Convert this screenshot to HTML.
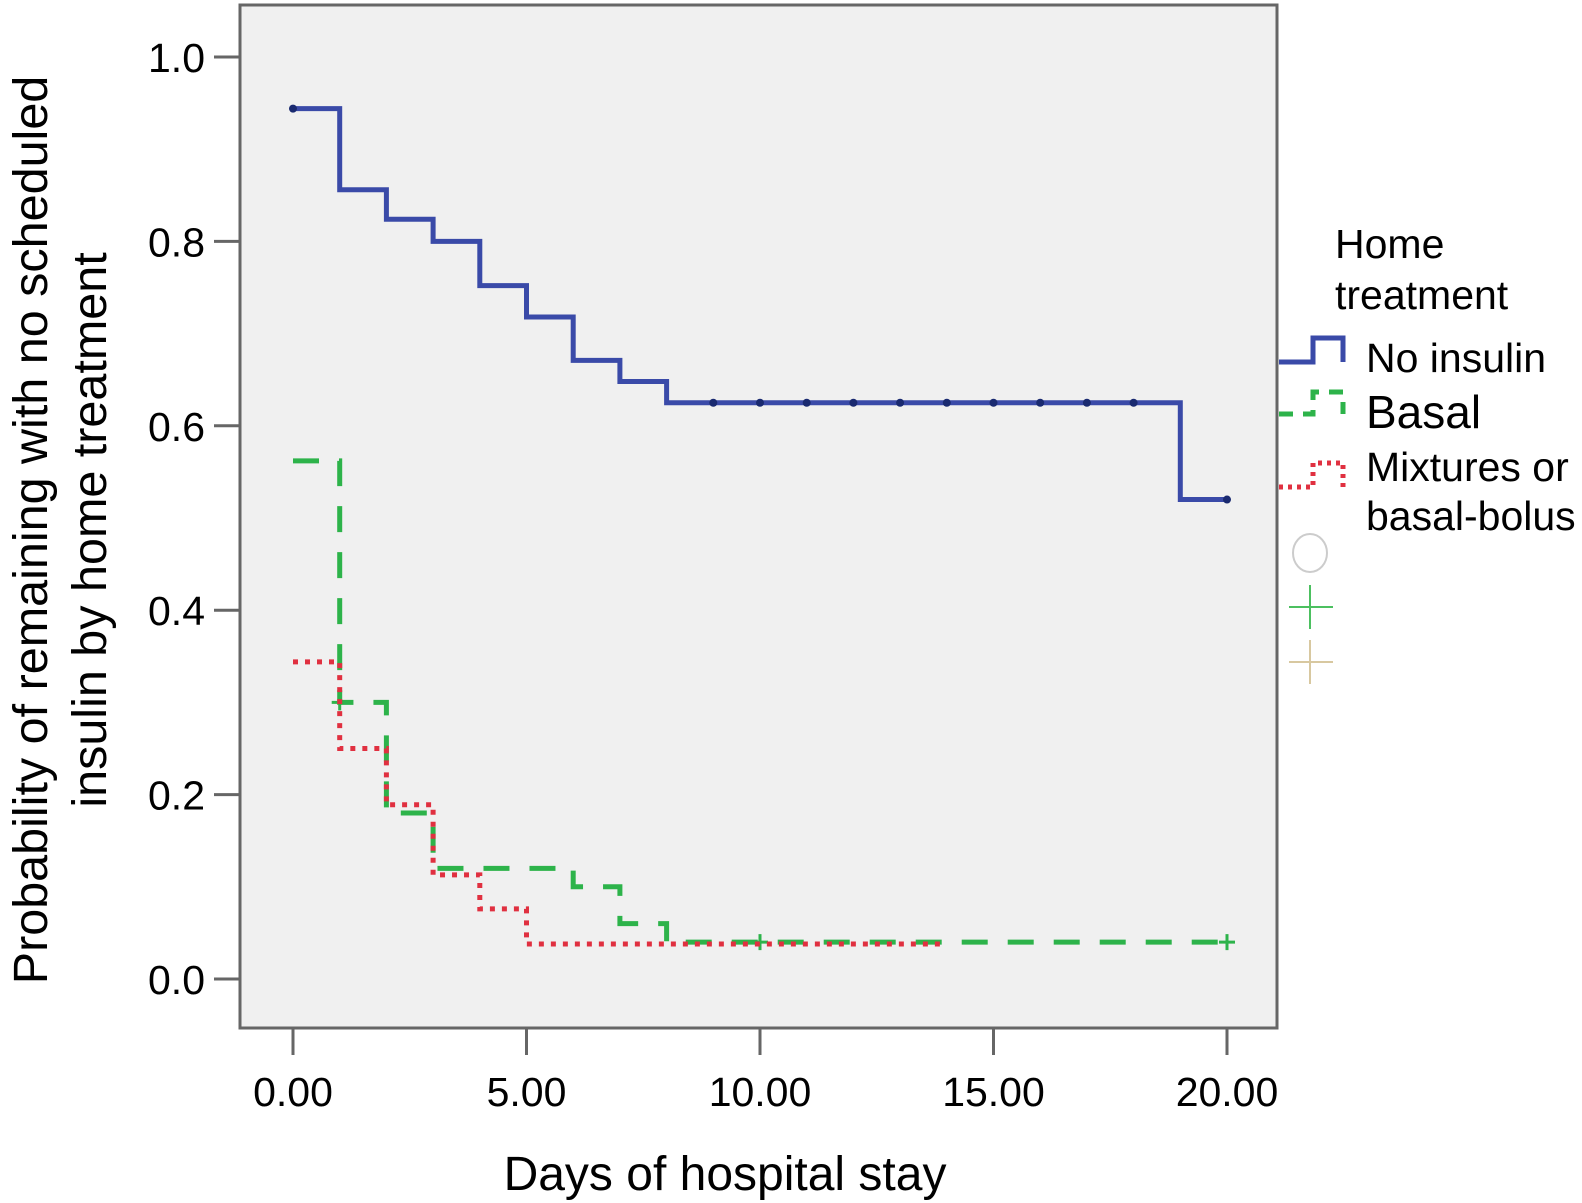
<!DOCTYPE html>
<html><head><meta charset="utf-8"><style>
html,body{margin:0;padding:0;background:#fff;}
svg{display:block;font-family:"Liberation Sans",Arial,sans-serif;}
</style></head><body>
<svg id="chart" width="1582" height="1203" viewBox="0 0 1582 1203">
<rect x="240" y="5" width="1037" height="1023" fill="#f0f0f0" stroke="#666" stroke-width="3"/>
<g id="axes"></g>
<g id="series"></g>
<text transform="translate(47,530) rotate(-90)" text-anchor="middle" font-size="48.5" fill="#000">Probability of remaining with no scheduled</text>
<text transform="translate(106,530) rotate(-90)" text-anchor="middle" font-size="48.5" fill="#000">insulin by home treatment</text>
<text x="725" y="1190" text-anchor="middle" font-size="48" fill="#000">Days of hospital stay</text>
<g>
<text x="1335" y="258" font-size="41">Home</text>
<text x="1335" y="309" font-size="41">treatment</text>
<path d="M1279 362 H1313 V338 H1343 V362" fill="none" stroke="#3a4aa8" stroke-width="5"/>
<text x="1366" y="372" font-size="41">No insulin</text>
<path d="M1279 414 H1313 V392 H1343 V414" fill="none" stroke="#2db34a" stroke-width="5" stroke-dasharray="14,10"/>
<text x="1366" y="428" font-size="46">Basal</text>
<path d="M1279 487 H1313 V463 H1343 V487" fill="none" stroke="#e03040" stroke-width="5" stroke-dasharray="4,5"/>
<text x="1366" y="481" font-size="41">Mixtures or</text>
<text x="1366" y="530" font-size="41">basal-bolus</text>
<ellipse cx="1310" cy="553" rx="17" ry="19" fill="none" stroke="#ccc" stroke-width="2"/>
<path d="M1289 607 H1333 M1310 585 V629" stroke="#4cc060" stroke-width="2"/>
<path d="M1289 662 H1333 M1310 640 V684" stroke="#d8c8a0" stroke-width="2"/>
</g>
</svg>
<script>
const yTicks = [0.0, 0.2, 0.4, 0.6, 0.8, 1.0];
const yTickLabels = ["0.0","0.2","0.4","0.6","0.8","1.0"];
const xTicks = [0, 5, 10, 15, 20];
const xTickLabels = ["0.00","5.00","10.00","15.00","20.00"];
const noInsulinTimes = [0,1,2,3,4,5,6,7,8,19,20];
const noInsulinValues = [0.944,0.856,0.824,0.80,0.752,0.718,0.671,0.648,0.625,0.52,0.52];
const noInsulinCensor = [9,10,11,12,13,14,15,16,17,18];
const basalTimes = [0,1,2,3,6,7,8,20];
const basalValues = [0.562,0.30,0.18,0.12,0.10,0.06,0.04,0.04];
const basalCensor = [1,10,20];
const mixTimes = [0,1,2,3,4,5,14];
const mixValues = [0.344,0.25,0.189,0.113,0.076,0.038,0.038];

const NS = "http://www.w3.org/2000/svg";
const X = d => 293 + d * 46.7;
const Y = v => 979 - v * 922;
const axes = document.getElementById('axes');
const series = document.getElementById('series');
function mk(tag, attrs, parent){const e=document.createElementNS(NS,tag);for(const k in attrs)e.setAttribute(k,attrs[k]);parent.appendChild(e);return e;}

yTicks.forEach((v,i)=>{
  const t = mk('line',{x1:214,x2:240,y1:Y(v),y2:Y(v),stroke:'#666','stroke-width':3},axes);
  
  
  const l = mk('text',{x:205,y:Y(v)+15,'text-anchor':'end','font-size':41},axes);
  l.textContent = yTickLabels[i];
  
  
});
xTicks.forEach((d,i)=>{
  const t = mk('line',{x1:X(d),x2:X(d),y1:1028,y2:1055,stroke:'#666','stroke-width':3},axes);
  
  
  const l = mk('text',{x:X(d),y:1106,'text-anchor':'middle','font-size':41},axes);
  l.textContent = xTickLabels[i];
  
  
});
function stepPath(times, vals){
  let d = 'M'+X(times[0])+' '+Y(vals[0]);
  for(let i=1;i<times.length;i++){
    d += ' H'+X(times[i]);
    if(vals[i]!==vals[i-1]) d += ' V'+Y(vals[i]);
  }
  return d;
}
function valAt(times, vals, t){let v=vals[0];for(let i=0;i<times.length;i++){if(times[i]<=t)v=vals[i];}return v;}

const bl = mk('path',{d:stepPath(basalTimes,basalValues),fill:'none',stroke:'#2db34a','stroke-width':5,'stroke-dasharray':'26,20'},series);


basalCensor.forEach(t=>{
  const y=Y(valAt(basalTimes,basalValues,t));
  const c=mk('path',{d:`M${X(t)-8} ${y} H${X(t)+8} M${X(t)} ${y-8} V${y+8}`,stroke:'#2db34a','stroke-width':3},series);
  
  
});
const ml = mk('path',{d:stepPath(mixTimes,mixValues),fill:'none',stroke:'#e03040','stroke-width':5,'stroke-dasharray':'5,7'},series);


const nl = mk('path',{d:stepPath(noInsulinTimes,noInsulinValues),fill:'none',stroke:'#3a4aa8','stroke-width':5},series);


noInsulinCensor.concat([0,20]).forEach(t=>{
  const c=mk('circle',{cx:X(t),cy:Y(valAt(noInsulinTimes,noInsulinValues,t)),r:4,fill:'#1a2a70'},series);
  
  
});
</script>
</body></html>
